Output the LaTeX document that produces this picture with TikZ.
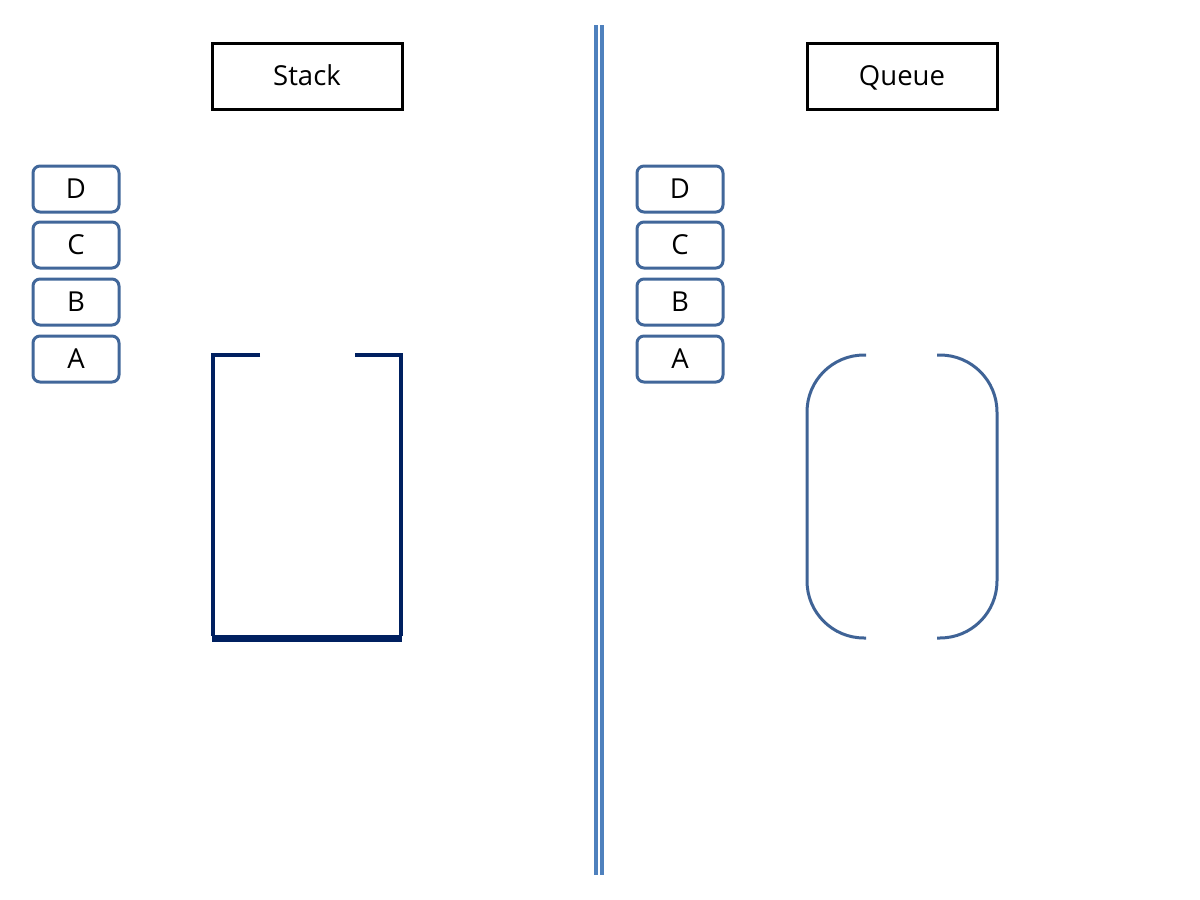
\documentclass[tikz,border=0pt]{standalone}
\usepackage{fontspec}
\setmainfont{Open Sans}
\usepackage{tikz}

\definecolor{itemblue}{HTML}{41679A}
\definecolor{stacknavy}{HTML}{002060}
\definecolor{queueblue}{HTML}{3F6396}
\definecolor{splitblue}{HTML}{4F81BD}

\tikzset{
    titlebox/.style={draw=black, line width=3pt, minimum width=190pt, minimum height=66pt, text height=19.6pt, text depth=0pt, font=\fontsize{27.5}{30}\selectfont},
    itembox/.style={draw=itemblue, line width=3pt, rounded corners=7pt, minimum width=86pt, minimum height=46pt, text height=19.6pt, text depth=0pt, font=\fontsize{27.5}{30}\selectfont}
}

\begin{document}
\begin{tikzpicture}[x=1pt, y=-1pt]
    \useasboundingbox (0,0) rectangle (1200,900);

    % Stack
    \node[titlebox] (stack) at (307,76) {Stack};
    \node[itembox] (sd) at (76,189) {D};
    \node[itembox] (sc) at (76,245) {C};
    \node[itembox] (sb) at (76,302) {B};
    \node[itembox] (sa) at (76,359) {A};
    \draw[stacknavy, line width=3.5pt] (260,355) -- (213,355) -- (213,636);
    \draw[stacknavy, line width=3.5pt] (355,355) -- (401,355) -- (401,636);
    \draw[stacknavy, line width=7pt] (212,638) -- (402,638);

    % Divider
    \draw[splitblue, line width=3.2pt] (596,25) -- (596,875);
    \draw[splitblue, line width=3.2pt] (602,25) -- (602,875);

    % Queue
    \node[titlebox] (queue) at (902,76) {Queue};
    \node[itembox] (qd) at (680,189) {D};
    \node[itembox] (qc) at (680,245) {C};
    \node[itembox] (qb) at (680,302) {B};
    \node[itembox] (qa) at (680,359) {A};
    \draw[queueblue, line width=3pt, rounded corners=57pt] (866,355) -- (807,355) -- (807,638) -- (866,638);
    \draw[queueblue, line width=3pt, rounded corners=57pt] (937,355) -- (997,355) -- (997,638) -- (937,638);
\end{tikzpicture}
\end{document}
